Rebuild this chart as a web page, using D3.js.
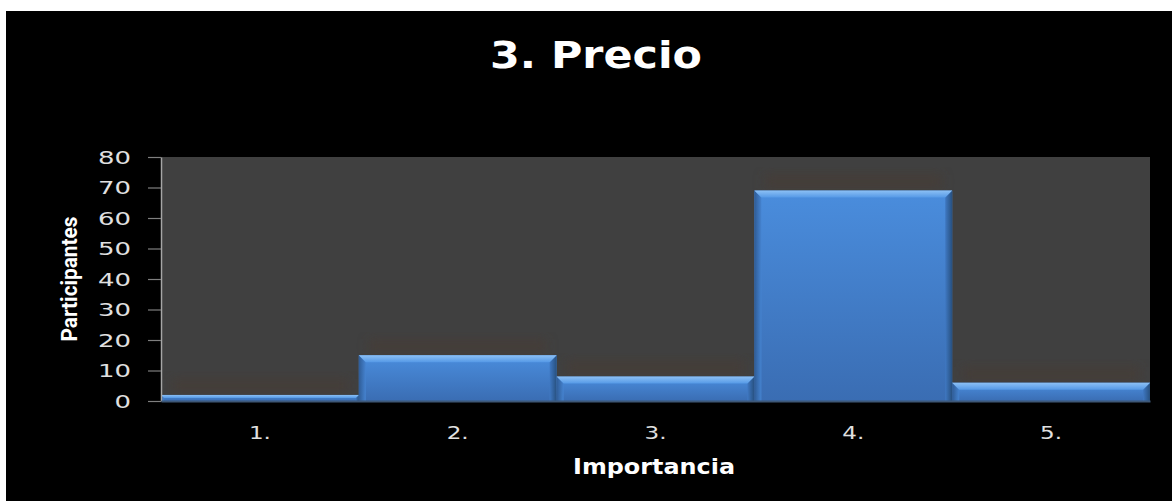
<!DOCTYPE html>
<html>
<head>
<meta charset="utf-8">
<script src="https://cdn.jsdelivr.net/npm/d3@7"></script>
<style>
  html, body { margin: 0; padding: 0; background: #ffffff; }
  svg { display: block; }
</style>
</head>
<body>
<script>
// Encuesta: importancia del precio
const categories = ["1.", "2.", "3.", "4.", "5."];
const participantes = [2, 15, 8, 69, 6];
const yTicks = [0, 10, 20, 30, 40, 50, 60, 70, 80];
const titleText = "3. Precio";
const yTitle = "Participantes";
const xTitle = "Importancia";

const W = 1172, H = 501;
const plot = { left: 161, right: 1150, top: 157, bottom: 401 };

const svg = d3.select("body").append("svg")
  .attr("width", W).attr("height", H);

const defs = svg.append("defs");

const gBody = defs.append("linearGradient").attr("id", "barBody")
  .attr("x1", 0).attr("y1", 0).attr("x2", 0).attr("y2", 1);
gBody.append("stop").attr("offset", "0%").attr("stop-color", "#4a8ddd");
gBody.append("stop").attr("offset", "100%").attr("stop-color", "#3a6db3");

const gTop = defs.append("linearGradient").attr("id", "barTop")
  .attr("x1", 0).attr("y1", 0).attr("x2", 0).attr("y2", 1);
gTop.append("stop").attr("offset", "0%").attr("stop-color", "#8cc0f5");
gTop.append("stop").attr("offset", "100%").attr("stop-color", "#5599e6");

const gL = defs.append("linearGradient").attr("id", "barLeft")
  .attr("x1", 0).attr("y1", 0).attr("x2", 1).attr("y2", 0);
gL.append("stop").attr("offset", "0%").attr("stop-color", "#2f5c96");
gL.append("stop").attr("offset", "100%").attr("stop-color", "#4583d0");

const gR = defs.append("linearGradient").attr("id", "barRight")
  .attr("x1", 0).attr("y1", 0).attr("x2", 1).attr("y2", 0);
gR.append("stop").attr("offset", "0%").attr("stop-color", "#3f78c2");
gR.append("stop").attr("offset", "100%").attr("stop-color", "#27507f");

defs.append("filter").attr("id", "soft")
  .attr("x", "-20%").attr("y", "-50%").attr("width", "140%").attr("height", "200%")
  .append("feGaussianBlur").attr("stdDeviation", 6);

// black chart background
svg.append("rect").attr("x", 6).attr("y", 11)
  .attr("width", W - 6).attr("height", H - 11).attr("fill", "#000000");

const x = d3.scaleBand().domain(categories)
  .range([plot.left, plot.right]).paddingInner(0).paddingOuter(0);
const y = d3.scaleLinear().domain([0, 80]).range([plot.bottom, plot.top]);

// plot area
svg.append("rect")
  .attr("x", plot.left).attr("y", plot.top)
  .attr("width", plot.right - plot.left).attr("height", plot.bottom - plot.top)
  .attr("fill", "#404040");

const data = categories.map((c, i) => ({ c, v: participantes[i] }));

// soft warm shadow above each bar
svg.append("g").attr("clip-path", null).selectAll("rect").data(data).join("rect")
  .attr("x", d => x(d.c) + 10)
  .attr("y", d => y(d.v) - 16)
  .attr("width", x.bandwidth() - 20)
  .attr("height", 14)
  .attr("fill", "#4a3a30")
  .attr("opacity", 0.55)
  .attr("filter", "url(#soft)");

// bevelled bars
const bars = svg.append("g").selectAll("g").data(data).join("g");

bars.append("rect")
  .attr("x", d => x(d.c))
  .attr("y", d => y(d.v))
  .attr("width", x.bandwidth())
  .attr("height", d => y(0) - y(d.v))
  .attr("fill", "url(#barBody)");

function bevel(d) {
  const h = y(0) - y(d.v);
  return Math.min(7, h / 2);
}
bars.append("path")
  .attr("fill", "url(#barLeft)")
  .attr("d", d => {
    const x0 = x(d.c), t = y(d.v), b = bevel(d), yb = y(0);
    return `M${x0},${t}L${x0 + b},${t + b}L${x0 + b},${yb}L${x0},${yb}Z`;
  });
bars.append("path")
  .attr("fill", "url(#barRight)")
  .attr("d", d => {
    const x1 = x(d.c) + x.bandwidth(), t = y(d.v), b = bevel(d), yb = y(0);
    return `M${x1},${t}L${x1 - b},${t + b}L${x1 - b},${yb}L${x1},${yb}Z`;
  });
bars.append("path")
  .attr("fill", "url(#barTop)")
  .attr("d", d => {
    const x0 = x(d.c), x1 = x0 + x.bandwidth(), t = y(d.v), b = bevel(d);
    return `M${x0},${t}L${x1},${t}L${x1 - b},${t + b}L${x0 + b},${t + b}Z`;
  });

// y axis
const yAxis = svg.append("g")
  .attr("transform", `translate(${plot.left},0)`)
  .call(d3.axisLeft(y).tickValues(yTicks).tickSize(13).tickPadding(17).tickSizeOuter(0));
yAxis.select(".domain").attr("stroke", "#a6a6a6").attr("stroke-width", 1.5);
yAxis.selectAll(".tick line").attr("stroke", "#7f7f7f").attr("stroke-width", 1.2);
yAxis.selectAll(".tick text")
  .attr("fill", "#e0e0e0")
  .attr("font-family", "'DejaVu Sans', Verdana, sans-serif")
  .attr("font-size", 18)
  .attr("dy", "0.36em")
  .attr("textLength", d => String(d).length * 16.5)
  .attr("lengthAdjust", "spacingAndGlyphs");

// x axis
const xAxis = svg.append("g")
  .attr("transform", `translate(0,${plot.bottom})`)
  .call(d3.axisBottom(x).tickSize(0).tickPadding(0).tickSizeOuter(0));
xAxis.select(".domain").attr("stroke", "#3e5878").attr("stroke-width", 2);
xAxis.selectAll(".tick text")
  .attr("fill", "#e0e0e0")
  .attr("font-family", "'DejaVu Sans', Verdana, sans-serif")
  .attr("font-size", 18)
  .attr("y", 38)
  .attr("dy", 0)
  .attr("textLength", 22)
  .attr("lengthAdjust", "spacingAndGlyphs");

// titles
svg.append("text")
  .attr("x", 490).attr("y", 68)
  .attr("fill", "#ffffff")
  .attr("font-family", "'DejaVu Sans', sans-serif")
  .attr("font-weight", "bold")
  .attr("font-size", 38)
  .attr("textLength", 212)
  .attr("lengthAdjust", "spacingAndGlyphs")
  .text(titleText);

svg.append("text")
  .attr("x", 573).attr("y", 474)
  .attr("fill", "#ffffff")
  .attr("font-family", "'DejaVu Sans', sans-serif")
  .attr("font-weight", "bold")
  .attr("font-size", 21)
  .attr("textLength", 162)
  .attr("lengthAdjust", "spacingAndGlyphs")
  .text(xTitle);

svg.append("text")
  .attr("transform", `translate(77,${(plot.top + plot.bottom) / 2}) rotate(-90)`)
  .attr("text-anchor", "middle")
  .attr("fill", "#ffffff")
  .attr("font-family", "'Liberation Sans Narrow', 'Roboto', sans-serif")
  .attr("font-weight", "bold")
  .attr("font-size", 22)
  .attr("textLength", 125)
  .attr("lengthAdjust", "spacingAndGlyphs")
  .text(yTitle);
</script>
</body>
</html>
